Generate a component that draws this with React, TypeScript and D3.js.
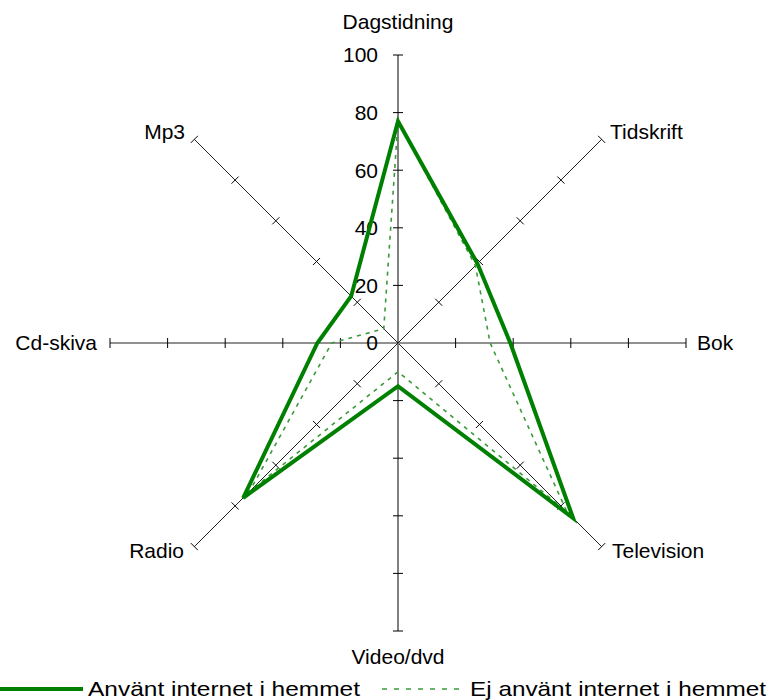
import React, { useRef, useEffect } from 'react';
import * as d3 from 'd3';

const categories = ['Dagstidning', 'Tidskrift', 'Bok', 'Television', 'Video/dvd', 'Radio', 'Cd-skiva', 'Mp3'];
const withInternet = [77, 39, 39, 86, 15, 76, 28, 23];
const withoutInternet = [77, 38, 32, 83, 10, 73, 23, 7];
const seriesNames = ['Använt internet i hemmet', 'Ej använt internet i hemmet'];
const tickValues = [0, 20, 40, 60, 80, 100];

const FONT = 'Liberation Sans, Arial, sans-serif';

const App: React.FC = () => {
  const svgRef = useRef<SVGSVGElement | null>(null);

  useEffect(() => {
    if (!svgRef.current) return;
    const width = 771;
    const height = 700;
    const cx = 398;
    const cy = 343;
    const radius = 288;

    const svg = d3.select(svgRef.current);
    svg.selectAll('*').remove();
    svg.attr('width', width).attr('height', height);

    const r = d3.scaleLinear().domain([0, 100]).range([0, radius]);
    const angle = (i: number) => -Math.PI / 2 + (i * 2 * Math.PI) / categories.length;
    const g = svg.append('g').attr('transform', `translate(${cx},${cy})`);

    // Axes with tick marks
    categories.forEach((_, i) => {
      const a = angle(i);
      const cos = Math.cos(a);
      const sin = Math.sin(a);
      const vertical = i === 0 || i === 4;
      g.append('line')
        .attr('x1', 0).attr('y1', 0)
        .attr('x2', r(100) * cos).attr('y2', r(100) * sin)
        .attr('stroke', vertical ? '#808080' : '#222')
        .attr('stroke-width', vertical ? 2 : 1);
      tickValues.slice(1).forEach(t => {
        const px = r(t) * cos;
        const py = r(t) * sin;
        g.append('line')
          .attr('x1', px - 5 * -sin).attr('y1', py - 5 * cos)
          .attr('x2', px + 5 * -sin).attr('y2', py + 5 * cos)
          .attr('stroke', '#000')
          .attr('stroke-width', 1);
      });
    });

    // Tick labels on the vertical axis
    g.selectAll('.tick-label')
      .data(tickValues)
      .enter()
      .append('text')
      .attr('x', -20)
      .attr('y', d => -r(d))
      .attr('dy', '0.35em')
      .attr('text-anchor', 'end')
      .attr('font-family', FONT)
      .attr('font-size', '21px')
      .attr('fill', '#000')
      .text(d => d);

    // Category labels
    const labelPos = [
      { x: 0, y: -321, anchor: 'middle' },
      { x: 212, y: -211, anchor: 'start' },
      { x: 299, y: 0, anchor: 'start' },
      { x: 214, y: 208, anchor: 'start' },
      { x: 0, y: 314, anchor: 'middle' },
      { x: -214, y: 208, anchor: 'end' },
      { x: -301, y: 0, anchor: 'end' },
      { x: -213, y: -211, anchor: 'end' },
    ];
    categories.forEach((c, i) => {
      const p = labelPos[i];
      g.append('text')
        .attr('x', p.x)
        .attr('y', p.y)
        .attr('dy', '0.35em')
        .attr('text-anchor', p.anchor)
        .attr('font-family', FONT)
        .attr('font-size', '21px')
        .attr('fill', '#000')
        .text(c);
    });

    const line = d3.lineRadial<number>()
      .angle((_, i) => (i * 2 * Math.PI) / categories.length)
      .radius(d => r(d))
      .curve(d3.curveLinearClosed);

    g.append('path')
      .datum(withoutInternet)
      .attr('fill', 'none')
      .attr('stroke', '#3a9a3a')
      .attr('stroke-width', 1.6)
      .attr('stroke-dasharray', '4,5')
      .attr('d', line);

    g.append('path')
      .datum(withInternet)
      .attr('fill', 'none')
      .attr('stroke', '#008000')
      .attr('stroke-width', 4)
      .attr('stroke-linejoin', 'miter')
      .attr('d', line);

    // Legend
    const legend = svg.append('g').attr('transform', 'translate(0,689)');
    legend.append('line')
      .attr('x1', 0).attr('x2', 83).attr('y1', 0).attr('y2', 0)
      .attr('stroke', '#008000').attr('stroke-width', 4);
    legend.append('text')
      .attr('x', 88).attr('y', 0).attr('dy', '0.35em')
      .attr('font-family', FONT).attr('font-size', '21px')
      .attr('textLength', 272).attr('lengthAdjust', 'spacingAndGlyphs')
      .text(seriesNames[0]);
    legend.append('line')
      .attr('x1', 382).attr('x2', 460).attr('y1', 0).attr('y2', 0)
      .attr('stroke', '#3a9a3a').attr('stroke-width', 1.6)
      .attr('stroke-dasharray', '5,7');
    legend.append('text')
      .attr('x', 470).attr('y', 0).attr('dy', '0.35em')
      .attr('font-family', FONT).attr('font-size', '21px')
      .attr('textLength', 296).attr('lengthAdjust', 'spacingAndGlyphs')
      .text(seriesNames[1]);
  }, []);

  return <svg ref={svgRef} style={{ position: 'absolute', left: 0, top: 0 }} />;
};

export default App;
